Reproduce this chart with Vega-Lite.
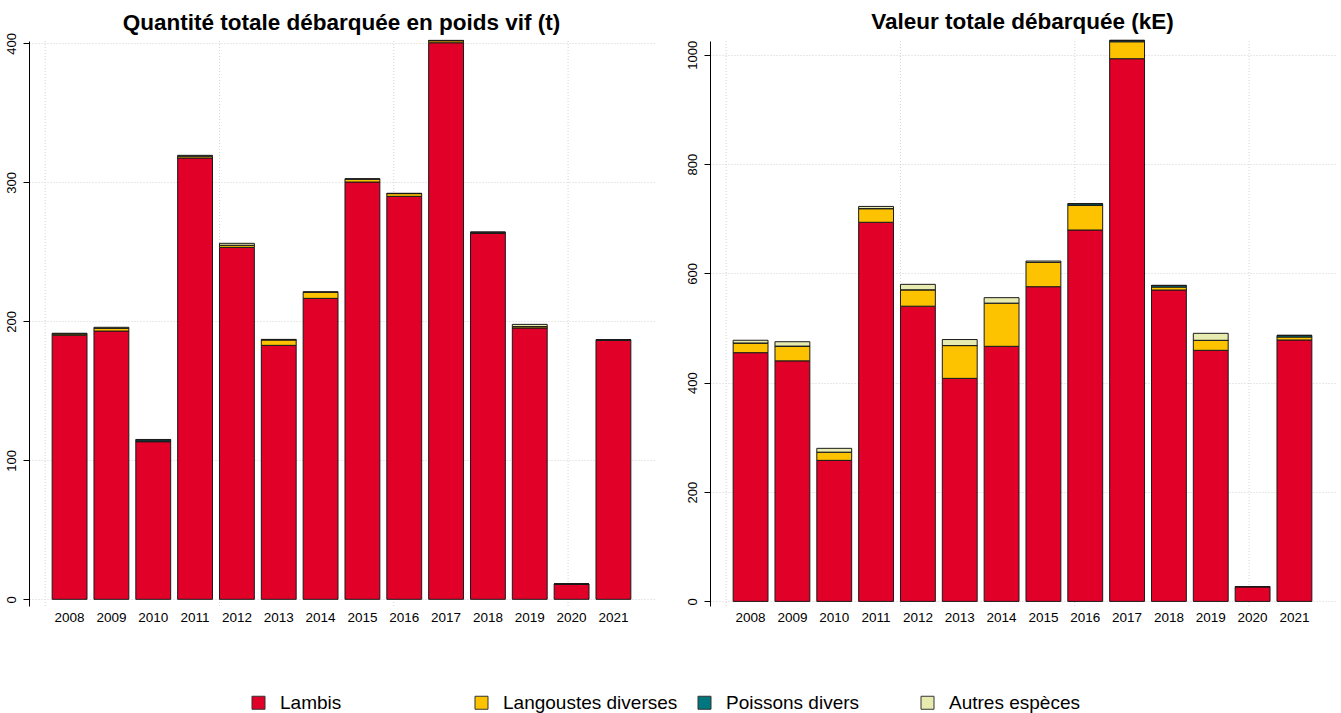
{
  "$schema": "https://vega.github.io/schema/vega-lite/v6.json",
  "padding": {"left": 5, "top": 11, "right": 4, "bottom": 0},
  "background": "white",
  "datasets": {
    "peche": [
      {"annee": 2008, "espece": "Lambis", "rang": 1, "poids": 190, "valeur": 455},
      {"annee": 2008, "espece": "Langoustes diverses", "rang": 2, "poids": 1.0, "valeur": 17.7},
      {"annee": 2008, "espece": "Poissons divers", "rang": 3, "poids": 0, "valeur": 0},
      {"annee": 2008, "espece": "Autres espèces", "rang": 4, "poids": 0.4, "valeur": 5},
      {"annee": 2009, "espece": "Lambis", "rang": 1, "poids": 193, "valeur": 440},
      {"annee": 2009, "espece": "Langoustes diverses", "rang": 2, "poids": 2.0, "valeur": 27},
      {"annee": 2009, "espece": "Poissons divers", "rang": 3, "poids": 0, "valeur": 0},
      {"annee": 2009, "espece": "Autres espèces", "rang": 4, "poids": 0.7, "valeur": 8},
      {"annee": 2010, "espece": "Lambis", "rang": 1, "poids": 113.4, "valeur": 258},
      {"annee": 2010, "espece": "Langoustes diverses", "rang": 2, "poids": 0.3, "valeur": 15},
      {"annee": 2010, "espece": "Poissons divers", "rang": 3, "poids": 1.0, "valeur": 0},
      {"annee": 2010, "espece": "Autres espèces", "rang": 4, "poids": 0.3, "valeur": 7},
      {"annee": 2011, "espece": "Lambis", "rang": 1, "poids": 317.5, "valeur": 693.5},
      {"annee": 2011, "espece": "Langoustes diverses", "rang": 2, "poids": 1.3, "valeur": 25},
      {"annee": 2011, "espece": "Poissons divers", "rang": 3, "poids": 0, "valeur": 0},
      {"annee": 2011, "espece": "Autres espèces", "rang": 4, "poids": 0.6, "valeur": 4},
      {"annee": 2012, "espece": "Lambis", "rang": 1, "poids": 253.2, "valeur": 540},
      {"annee": 2012, "espece": "Langoustes diverses", "rang": 2, "poids": 1.5, "valeur": 30},
      {"annee": 2012, "espece": "Poissons divers", "rang": 3, "poids": 0, "valeur": 0},
      {"annee": 2012, "espece": "Autres espèces", "rang": 4, "poids": 1.4, "valeur": 10},
      {"annee": 2013, "espece": "Lambis", "rang": 1, "poids": 182.7, "valeur": 408},
      {"annee": 2013, "espece": "Langoustes diverses", "rang": 2, "poids": 4.0, "valeur": 60},
      {"annee": 2013, "espece": "Poissons divers", "rang": 3, "poids": 0, "valeur": 0},
      {"annee": 2013, "espece": "Autres espèces", "rang": 4, "poids": 0.3, "valeur": 11},
      {"annee": 2014, "espece": "Lambis", "rang": 1, "poids": 216.5, "valeur": 466.6},
      {"annee": 2014, "espece": "Langoustes diverses", "rang": 2, "poids": 4.3, "valeur": 79},
      {"annee": 2014, "espece": "Poissons divers", "rang": 3, "poids": 0, "valeur": 0},
      {"annee": 2014, "espece": "Autres espèces", "rang": 4, "poids": 0.5, "valeur": 10},
      {"annee": 2015, "espece": "Lambis", "rang": 1, "poids": 300.2, "valeur": 575.7},
      {"annee": 2015, "espece": "Langoustes diverses", "rang": 2, "poids": 2.0, "valeur": 44.6},
      {"annee": 2015, "espece": "Poissons divers", "rang": 3, "poids": 0, "valeur": 0},
      {"annee": 2015, "espece": "Autres espèces", "rang": 4, "poids": 0.4, "valeur": 2.3},
      {"annee": 2016, "espece": "Lambis", "rang": 1, "poids": 289.9, "valeur": 679.4},
      {"annee": 2016, "espece": "Langoustes diverses", "rang": 2, "poids": 2.0, "valeur": 45},
      {"annee": 2016, "espece": "Poissons divers", "rang": 3, "poids": 0, "valeur": 3},
      {"annee": 2016, "espece": "Autres espèces", "rang": 4, "poids": 0.2, "valeur": 0},
      {"annee": 2017, "espece": "Lambis", "rang": 1, "poids": 400.4, "valeur": 992.7},
      {"annee": 2017, "espece": "Langoustes diverses", "rang": 2, "poids": 1.5, "valeur": 31},
      {"annee": 2017, "espece": "Poissons divers", "rang": 3, "poids": 0, "valeur": 2.5},
      {"annee": 2017, "espece": "Autres espèces", "rang": 4, "poids": 0.2, "valeur": 0},
      {"annee": 2018, "espece": "Lambis", "rang": 1, "poids": 263.3, "valeur": 569.6},
      {"annee": 2018, "espece": "Langoustes diverses", "rang": 2, "poids": 0.3, "valeur": 5.4},
      {"annee": 2018, "espece": "Poissons divers", "rang": 3, "poids": 0.5, "valeur": 3},
      {"annee": 2018, "espece": "Autres espèces", "rang": 4, "poids": 0.1, "valeur": 0},
      {"annee": 2019, "espece": "Lambis", "rang": 1, "poids": 195.2, "valeur": 459.3},
      {"annee": 2019, "espece": "Langoustes diverses", "rang": 2, "poids": 1.0, "valeur": 18.3},
      {"annee": 2019, "espece": "Poissons divers", "rang": 3, "poids": 0, "valeur": 0},
      {"annee": 2019, "espece": "Autres espèces", "rang": 4, "poids": 1.6, "valeur": 12.8},
      {"annee": 2020, "espece": "Lambis", "rang": 1, "poids": 11, "valeur": 27},
      {"annee": 2020, "espece": "Langoustes diverses", "rang": 2, "poids": 0, "valeur": 0},
      {"annee": 2020, "espece": "Poissons divers", "rang": 3, "poids": 0, "valeur": 0},
      {"annee": 2020, "espece": "Autres espèces", "rang": 4, "poids": 0, "valeur": 0},
      {"annee": 2021, "espece": "Lambis", "rang": 1, "poids": 186.3, "valeur": 478.2},
      {"annee": 2021, "espece": "Langoustes diverses", "rang": 2, "poids": 0.1, "valeur": 5.4},
      {"annee": 2021, "espece": "Poissons divers", "rang": 3, "poids": 0.4, "valeur": 3},
      {"annee": 2021, "espece": "Autres espèces", "rang": 4, "poids": 0, "valeur": 0}
    ],
    "grille": [{"g": 0}, {"g": 5}, {"g": 10}, {"g": 15}]
  },
  "config": {
    "font": "Liberation Sans",
    "view": {"stroke": null},
    "title": {"fontSize": 22.5, "fontWeight": "bold", "color": "#000", "anchor": "middle", "frame": "group"},
    "axis": {"labelColor": "#000", "labelFont": "Liberation Sans"}
  },
  "spacing": 31,
  "resolve": {"scale": {"color": "shared"}, "legend": {"color": "shared"}},
  "hconcat": [
    {
      "title": {"text": "Quantité totale débarquée en poids vif (t)", "offset": -2.5},
      "width": 625,
      "height": 565,
      "layer": [
        {
          "data": {"name": "grille"},
          "mark": {"type": "rule", "color": "#d3d3d3", "strokeDash": [1, 2], "strokeWidth": 1},
          "encoding": {
            "x": {"field": "g", "type": "quantitative", "scale": {"domain": [-0.464, 17.464], "nice": false, "zero": false}, "axis": null}
          }
        },
        {
          "data": {"name": "peche"},
          "mark": {"type": "bar", "stroke": "#1a1a1a", "strokeWidth": 1},
          "encoding": {
            "x": {"field": "annee", "type": "ordinal", "scale": {"paddingInner": 0.1667, "paddingOuter": 0.5533},
              "axis": {"title": null, "domain": false, "ticks": false, "tickSize": 0, "labelAngle": 0, "labelFontSize": 13.5, "labelPadding": 4, "grid": false}},
            "y": {"field": "poids", "type": "quantitative", "stack": "zero",
              "scale": {"domain": [-4.8, 401.65], "nice": false, "zero": false},
              "axis": {"title": null, "values": [0, 100, 200, 300, 400], "format": "d", "labelAngle": 270, "labelAlign": "center", "labelBaseline": "bottom", "labelFontSize": 13, "tickSize": 6, "tickColor": "#000", "domainColor": "#000", "labelPadding": 5, "grid": true, "gridColor": "#d3d3d3", "gridDash": [1, 2]}},
            "color": {"field": "espece", "type": "nominal",
              "scale": {"domain": ["Lambis", "Langoustes diverses", "Poissons divers", "Autres espèces"], "range": ["#E00028", "#FDC300", "#00767F", "#E8EBB0"]},
              "legend": {"orient": "none", "legendX": 220, "legendY": 652, "direction": "horizontal", "columns": 4, "gridAlign": "all", "columnPadding": 17, "title": null, "symbolType": "square", "symbolSize": 169, "symbolStrokeColor": "#333", "symbolStrokeWidth": 1, "labelFontSize": 19, "labelOffset": 12, "labelColor": "#000", "labelLimit": 400, "padding": 0}},
            "order": {"field": "rang", "type": "quantitative"}
          }
        }
      ],
      "resolve": {"scale": {"x": "independent"}}
    },
    {
      "title": {"text": "Valeur totale débarquée (kE)", "offset": 6},
      "width": 625,
      "height": 565,
      "layer": [
        {
          "data": {"name": "grille"},
          "mark": {"type": "rule", "color": "#d3d3d3", "strokeDash": [1, 2], "strokeWidth": 1},
          "encoding": {
            "x": {"field": "g", "type": "quantitative", "scale": {"domain": [-0.464, 17.464], "nice": false, "zero": false}, "axis": null}
          }
        },
        {
          "data": {"name": "peche"},
          "mark": {"type": "bar", "stroke": "#1a1a1a", "strokeWidth": 1},
          "encoding": {
            "x": {"field": "annee", "type": "ordinal", "scale": {"paddingInner": 0.1667, "paddingOuter": 0.5533},
              "axis": {"title": null, "domain": false, "ticks": false, "tickSize": 0, "labelAngle": 0, "labelFontSize": 13.5, "labelPadding": 4, "grid": false}},
            "y": {"field": "valeur", "type": "quantitative", "stack": "zero",
              "scale": {"domain": [-8.4, 1025.1], "nice": false, "zero": false},
              "axis": {"title": null, "values": [0, 200, 400, 600, 800, 1000], "format": "d", "labelAngle": 270, "labelAlign": "center", "labelBaseline": "bottom", "labelFontSize": 13, "tickSize": 6, "tickColor": "#000", "domainColor": "#000", "labelPadding": 5, "grid": true, "gridColor": "#d3d3d3", "gridDash": [1, 2]}},
            "color": {"field": "espece", "type": "nominal",
              "scale": {"domain": ["Lambis", "Langoustes diverses", "Poissons divers", "Autres espèces"], "range": ["#E00028", "#FDC300", "#00767F", "#E8EBB0"]},
              "legend": {"orient": "none", "legendX": 220, "legendY": 652, "direction": "horizontal", "columns": 4, "gridAlign": "all", "columnPadding": 17, "title": null, "symbolType": "square", "symbolSize": 169, "symbolStrokeColor": "#333", "symbolStrokeWidth": 1, "labelFontSize": 19, "labelOffset": 12, "labelColor": "#000", "labelLimit": 400, "padding": 0}},
            "order": {"field": "rang", "type": "quantitative"}
          }
        }
      ],
      "resolve": {"scale": {"x": "independent"}}
    }
  ]
}
